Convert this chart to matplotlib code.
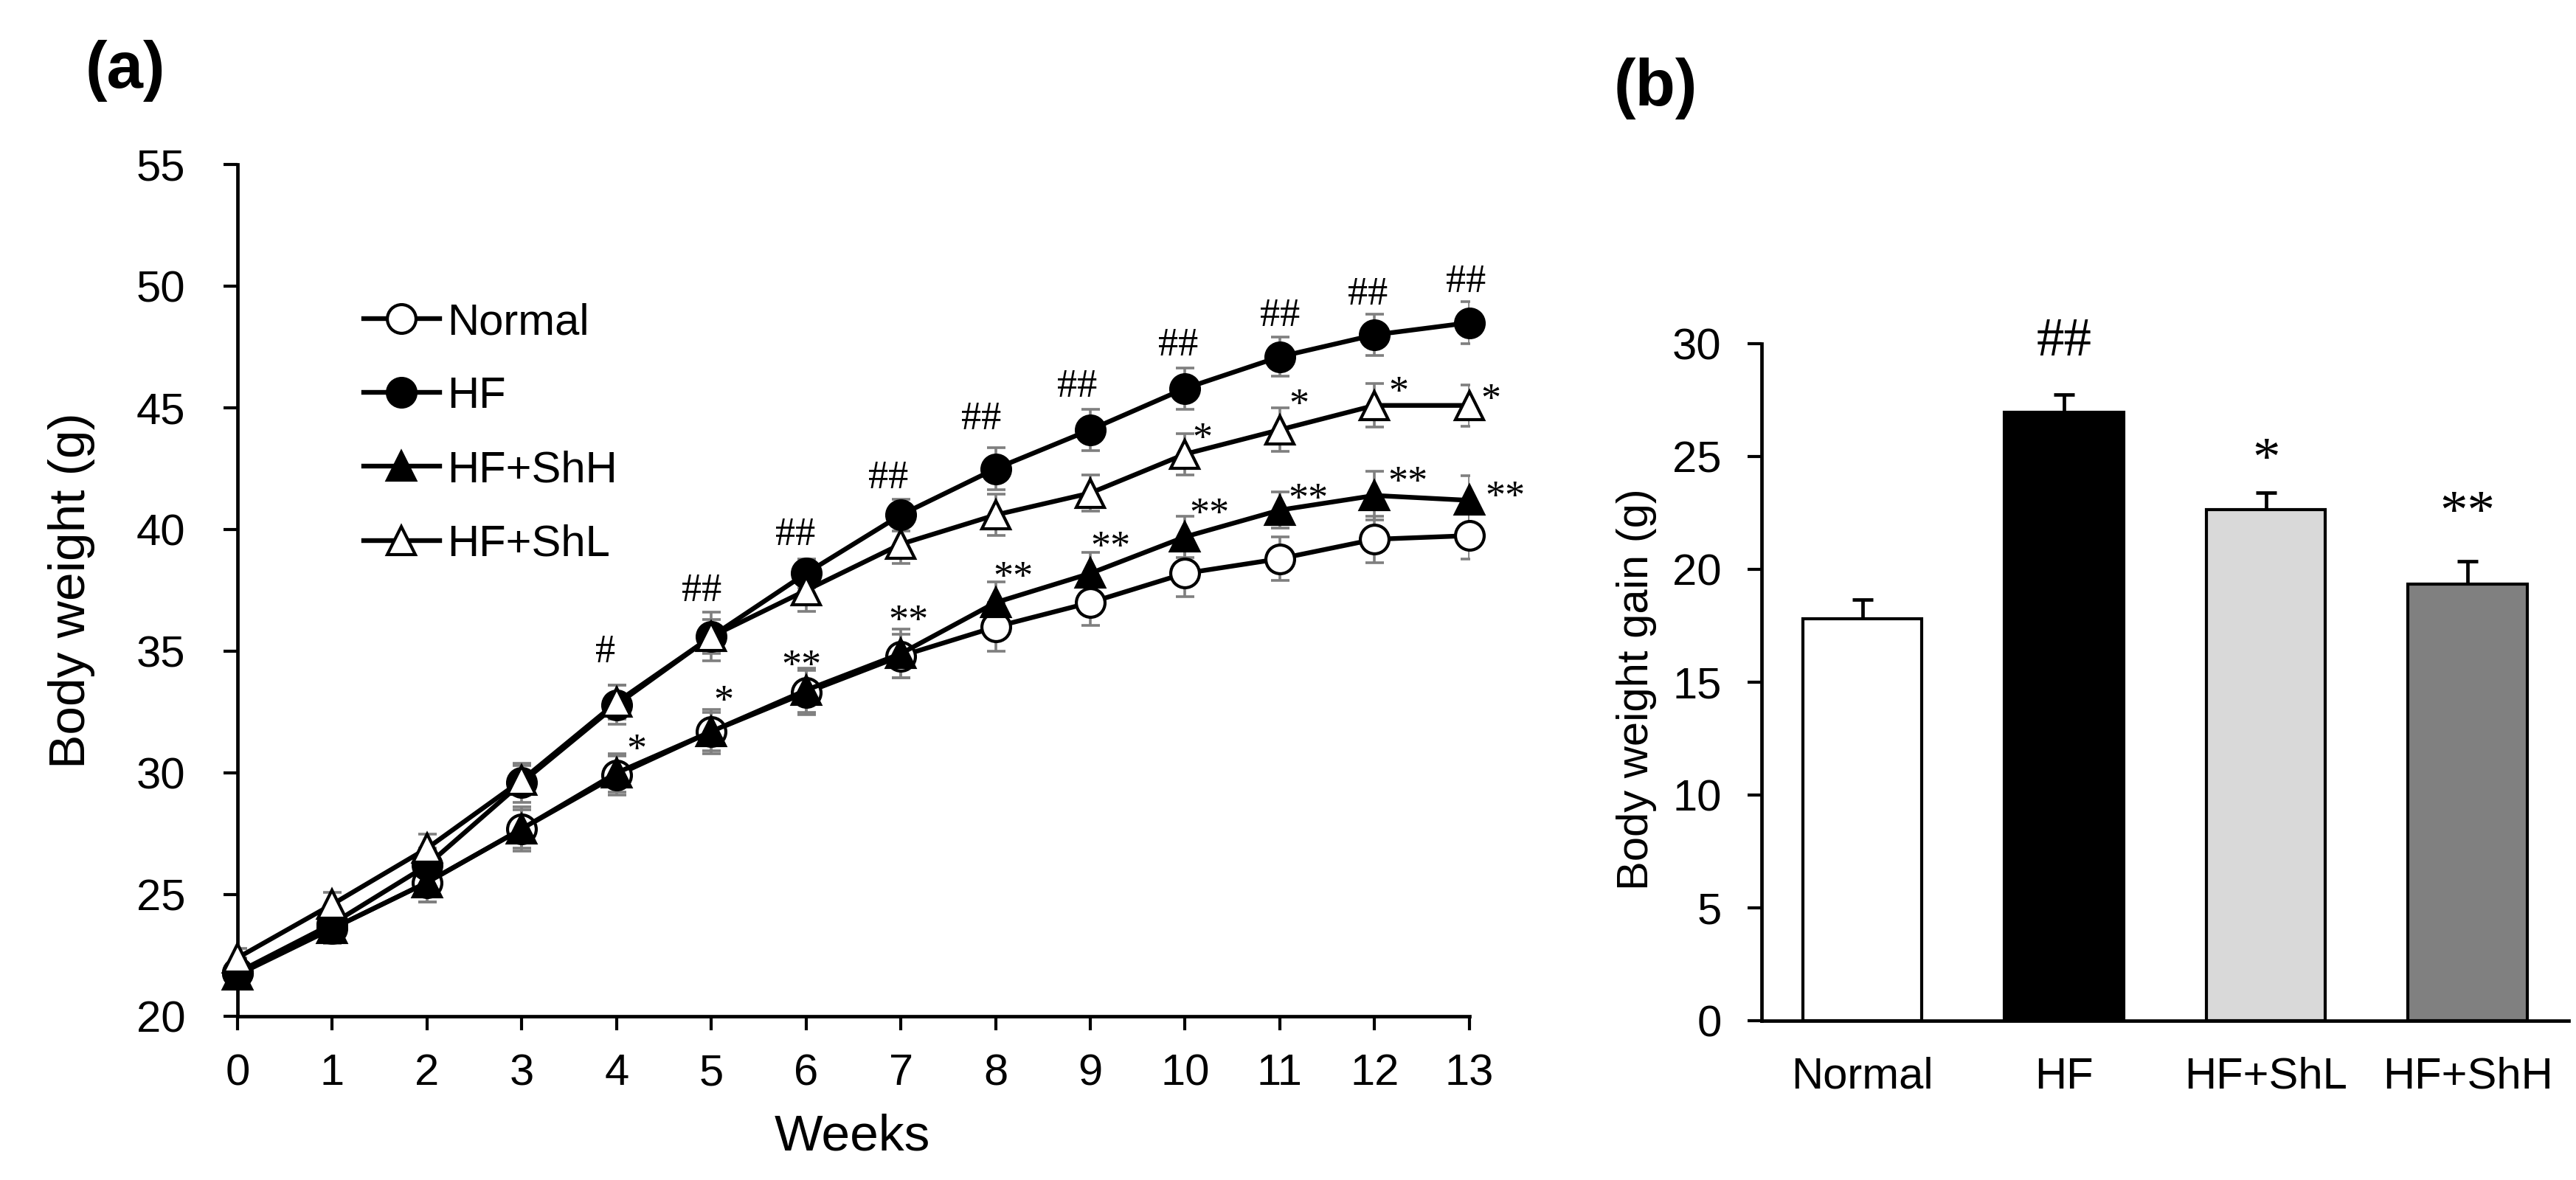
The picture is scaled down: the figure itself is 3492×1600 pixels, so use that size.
import matplotlib
matplotlib.use("Agg")
import matplotlib.pyplot as plt
import numpy as np

plt.rcParams['font.family'] = ['Liberation Sans', 'DejaVu Sans']

# ---------------- data: panel (a) ----------------
weeks = list(range(14))
normal = [21.8, 23.6, 25.5, 27.7, 29.9, 31.7, 33.3, 34.8, 36.0, 37.0, 38.2, 38.8, 39.6, 39.75]
hf     = [21.8, 23.8, 26.2, 29.6, 32.8, 35.6, 38.2, 40.6, 42.5, 44.1, 45.8, 47.1, 48.0, 48.5]
shh    = [21.7, 23.6, 25.5, 27.7, 30.0, 31.7, 33.4, 34.9, 37.0, 38.2, 39.7, 40.8, 41.4, 41.2]
shl    = [22.4, 24.6, 26.9, 29.7, 32.9, 35.6, 37.5, 39.4, 40.6, 41.5, 43.1, 44.1, 45.1, 45.1]

normal_err = [0.6, 0.6, 0.8, 0.8, 0.8, 0.9, 0.9, 0.9, 1.0, 0.95, 0.95, 0.9, 0.95, 0.95]
hf_err     = [0.5, 0.6, 0.7, 0.8, 0.8, 0.7, 0.6, 0.65, 0.85, 0.85, 0.85, 0.8, 0.85, 0.85]
shh_err    = [0.5, 0.6, 0.8, 0.9, 0.8, 0.8, 0.9, 1.0, 0.85, 0.85, 0.85, 0.75, 1.0, 1.0]
shl_err    = [0.4, 0.5, 0.6, 0.6, 0.7, 1.0, 0.85, 0.8, 0.85, 0.75, 0.85, 0.9, 0.9, 0.85]

series_names = ['Normal', 'HF', 'HF+ShH', 'HF+ShL']

# significance marks, panel (a)
hash_text = ['#', '##', '##', '##', '##', '##', '##', '##', '##', '##']
hash_x = [3.88, 4.90, 5.89, 6.87, 7.85, 8.86, 9.93, 11.0, 11.93, 12.96]
hash_y = [35.1, 37.6, 39.9, 42.25, 44.67, 46.0, 47.7, 48.9, 49.8, 50.3]

shh_star_text = ['*', '*', '**', '**', '**', '**', '**', '**', '**', '**']
shh_star_x = [4.21, 5.13, 5.95, 7.08, 8.19, 9.21, 10.26, 11.30, 12.35, 13.38]
shh_star_y = [31.3, 33.3, 34.75, 36.6, 38.4, 39.65, 41.0, 41.6, 42.3, 41.7]

shl_star_text = ['*', '*', '*', '*']
shl_star_x = [10.18, 11.2, 12.25, 13.23]
shl_star_y = [44.1, 45.5, 46.0, 45.7]

# ---------------- data: panel (b) ----------------
categories = ['Normal', 'HF', 'HF+ShL', 'HF+ShH']
gain = [17.8, 26.95, 22.65, 19.35]
gain_err = [0.85, 0.8, 0.75, 1.0]
bar_colors = ['white', 'black', '#d9d9d9', '#808080']
bar_marks = ['', '##', '*', '**']
bar_mark_y = [0, 30.3, 25.4, 23.07]

# ---------------- figure ----------------
fig = plt.figure(figsize=(34.92, 16), dpi=100)
axA = fig.add_axes([0.0922, 0.13875, 0.4782, 0.72185])
axB = fig.add_axes([0.6838, 0.135, 0.3133, 0.57375])

SPINE = 3.4
TICKW = 3.0
LW = 4.6
MS = 28
MEW = 3.0
ERRC = '#7f7f7f'
SERIF = ['Liberation Serif', 'DejaVu Serif']

# ---- panel (a) ----
data = [normal, hf, shh, shl]
errs = [normal_err, hf_err, shh_err, shl_err]
markers = ['o', 'o', '^', '^']
faces = ['white', 'black', 'black', 'white']
handles = []
for i, (vals, e, m, fc, name) in enumerate(zip(data, errs, markers, faces, series_names)):
    axA.errorbar(weeks, vals, yerr=e, fmt='none', ecolor=ERRC, elinewidth=2.6,
                 capsize=9, capthick=2.6, zorder=2 + i * 0.1)
    ln, = axA.plot(weeks, vals, color='black', lw=LW, marker=m, markersize=MS,
                   markerfacecolor=fc, markeredgecolor='black', markeredgewidth=MEW,
                   label=name, zorder=3 + i, clip_on=False)
    handles.append(ln)

axA.set_xlim(0, 13)
axA.set_ylim(20, 55)
axA.set_xticks(weeks)
axA.set_yticks(np.arange(20, 56, 5))
for s in ['top', 'right']:
    axA.spines[s].set_visible(False)
for s in ['left', 'bottom']:
    axA.spines[s].set_linewidth(SPINE)
axA.tick_params(axis='both', direction='out', length=14, width=TICKW, labelsize=43)
axA.tick_params(axis='x', pad=22)
axA.tick_params(axis='y', pad=37)
axA.set_xlabel('Weeks', fontsize=50)
axA.set_ylabel('Body weight (g)', fontsize=50)
axA.xaxis.set_label_coords(0.499, -0.114)
axA.yaxis.set_label_coords(-0.1156, 0.50)

leg = axA.legend(handles=handles, loc='upper left', bbox_to_anchor=(0.1024, 0.838),
                 frameon=False, fontsize=43, handlelength=1.72, handletextpad=0.17,
                 labelspacing=0.755, borderpad=0, borderaxespad=0, numpoints=1)

FS_A = 39


def mark(ax, x, y, t, fs):
    # y is the visual centre of the glyph; shift baseline down accordingly
    k = 0.50 if '*' in t else 0.33
    ax.annotate(t, (x, y), xytext=(0, -k * fs), textcoords='offset points',
                ha='center', va='baseline', fontsize=fs, family=SERIF,
                annotation_clip=False, zorder=10)


for t, x, y in zip(hash_text, hash_x, hash_y):
    mark(axA, x, y, t, FS_A)
for t, x, y in zip(shh_star_text, shh_star_x, shh_star_y):
    mark(axA, x, y, t, FS_A)
for t, x, y in zip(shl_star_text, shl_star_x, shl_star_y):
    mark(axA, x, y, t, FS_A)

# ---- panel (b) ----
xpos = np.arange(len(categories))
axB.bar(xpos, gain, width=0.59, color=bar_colors, edgecolor='black', linewidth=3.0, zorder=3)
axB.errorbar(xpos, gain, yerr=[np.zeros(len(gain)), gain_err], fmt='none', ecolor='black',
             elinewidth=3.4, capsize=10, capthick=3.4, zorder=2)
axB.set_xlim(-0.5, 3.5)
axB.set_ylim(0, 30)
axB.set_yticks(np.arange(0, 31, 5))
axB.set_xticks(xpos)
axB.set_xticklabels(categories)
for s in ['top', 'right']:
    axB.spines[s].set_visible(False)
for s in ['left', 'bottom']:
    axB.spines[s].set_linewidth(SPINE)
axB.tick_params(axis='y', direction='out', length=14, width=TICKW, labelsize=43, pad=25)
axB.tick_params(axis='x', length=0, labelsize=43, pad=35)
axB.set_ylabel('Body weight gain (g)', fontsize=43)
axB.yaxis.set_label_coords(-0.130, 0.49)

for x, t, y in zip(xpos, bar_marks, bar_mark_y):
    if t:
        mark(axB, x, y, t, 54)

# panel labels
fig.text(0.0487, 0.94, '(a)', fontsize=64, fontweight='bold', ha='center', va='center')
fig.text(0.6426, 0.925, '(b)', fontsize=64, fontweight='bold', ha='center', va='center')

fig.savefig('out.png', dpi=100, facecolor='white')
